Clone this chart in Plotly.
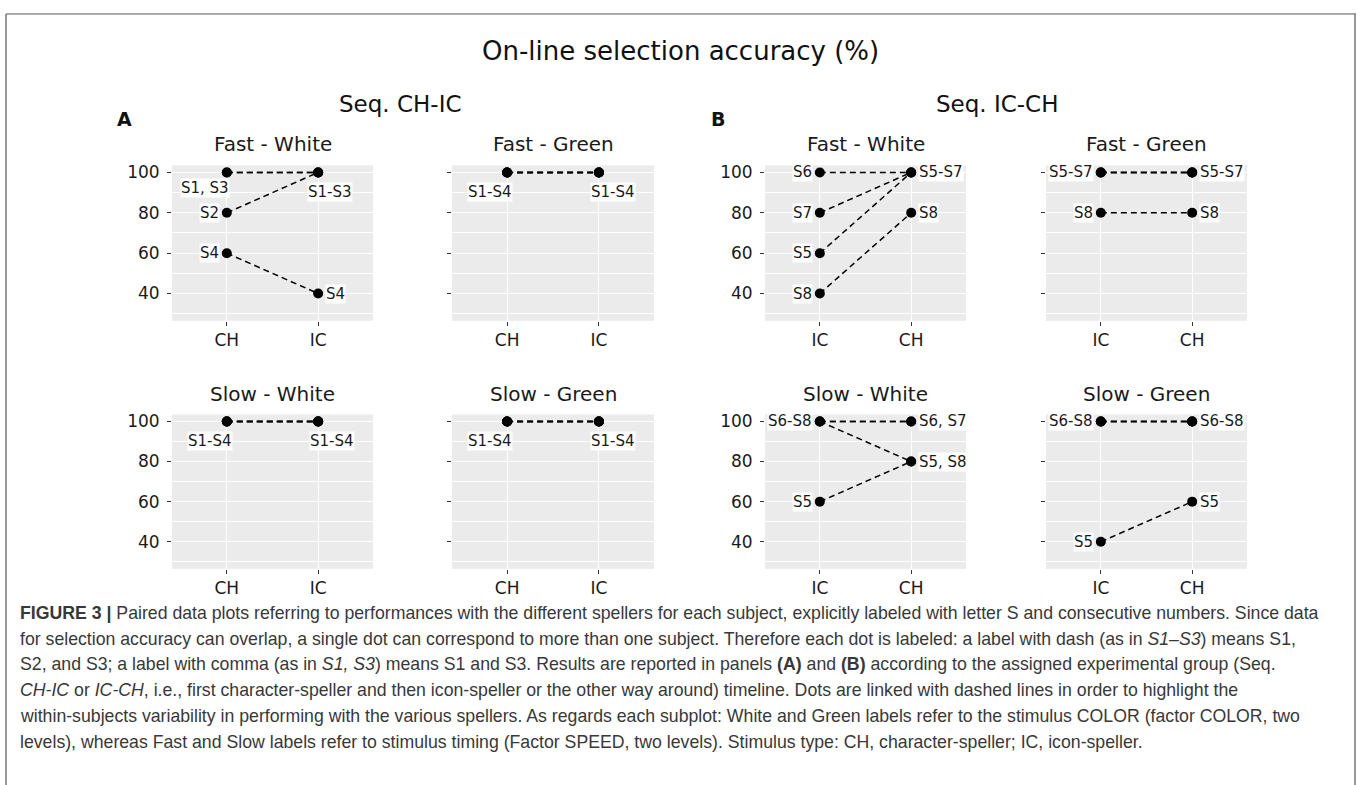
import plotly.graph_objects as go

W, H = 1357, 785

# ---------------- data ----------------
panel_titles = ["Fast - White", "Fast - Green", "Slow - White", "Slow - Green"]
stim_a = ["CH", "IC"]   # Seq. CH-IC: character speller first
stim_b = ["IC", "CH"]   # Seq. IC-CH: icon speller first
y_ticks = [40, 60, 80, 100]

subjects_a = ["S1", "S2", "S3", "S4"]
subjects_b = ["S5", "S6", "S7", "S8"]

# on-line selection accuracy (%) per subject: first speller, second speller
a_fast_white_first = [100, 80, 100, 60]
a_fast_white_second = [100, 100, 100, 40]
a_fast_green_first = [100, 100, 100, 100]
a_fast_green_second = [100, 100, 100, 100]
a_slow_white_first = [100, 100, 100, 100]
a_slow_white_second = [100, 100, 100, 100]
a_slow_green_first = [100, 100, 100, 100]
a_slow_green_second = [100, 100, 100, 100]

b_fast_white_first = [60, 100, 80, 40]
b_fast_white_second = [100, 100, 100, 80]
b_fast_green_first = [100, 100, 100, 80]
b_fast_green_second = [100, 100, 100, 80]
b_slow_white_first = [60, 100, 100, 100]
b_slow_white_second = [80, 100, 100, 80]
b_slow_green_first = [40, 100, 100, 100]
b_slow_green_second = [60, 100, 100, 100]

# dot labels: (speller, accuracy, text)
labels_a_fast_white = [("CH", 100, "S1, S3"), ("CH", 80, "S2"), ("CH", 60, "S4"),
                       ("IC", 100, "S1-S3"), ("IC", 40, "S4")]
labels_a_fast_green = [("CH", 100, "S1-S4"), ("IC", 100, "S1-S4")]
labels_a_slow_white = [("CH", 100, "S1-S4"), ("IC", 100, "S1-S4")]
labels_a_slow_green = [("CH", 100, "S1-S4"), ("IC", 100, "S1-S4")]
labels_b_fast_white = [("IC", 100, "S6"), ("IC", 80, "S7"), ("IC", 60, "S5"), ("IC", 40, "S8"),
                       ("CH", 100, "S5-S7"), ("CH", 80, "S8")]
labels_b_fast_green = [("IC", 100, "S5-S7"), ("IC", 80, "S8"), ("CH", 100, "S5-S7"), ("CH", 80, "S8")]
labels_b_slow_white = [("IC", 100, "S6-S8"), ("IC", 60, "S5"), ("CH", 100, "S6, S7"), ("CH", 80, "S5, S8")]
labels_b_slow_green = [("IC", 100, "S6-S8"), ("IC", 40, "S5"), ("CH", 100, "S6-S8"), ("CH", 60, "S5")]

caption_lines = [
    "<b>FIGURE 3 |</b> Paired data plots referring to performances with the different spellers for each subject, explicitly labeled with letter S and consecutive numbers. Since data",
    "for selection accuracy can overlap, a single dot can correspond to more than one subject. Therefore each dot is labeled: a label with dash (as in <i>S1–S3</i>) means S1,",
    "S2, and S3; a label with comma (as in <i>S1, S3</i>) means S1 and S3. Results are reported in panels <b>(A)</b> and <b>(B)</b> according to the assigned experimental group (Seq.",
    "<i>CH-IC</i> or <i>IC-CH</i>, i.e., first character-speller and then icon-speller or the other way around) timeline. Dots are linked with dashed lines in order to highlight the",
    "within-subjects variability in performing with the various spellers. As regards each subplot: White and Green labels refer to the stimulus COLOR (factor COLOR, two",
    "levels), whereas Fast and Slow labels refer to stimulus timing (Factor SPEED, two levels). Stimulus type: CH, character-speller; IC, icon-speller.",
]

# ---------------- label placement (pixel offsets) ----------------
place_a_fast_white = [("below", -22, -16), ("left", 0, 0), ("left", 0, 0), ("below", 12, -20), ("right", 0, 0)]
place_a_pair = [("below", -17, -20), ("below", 14, -20)]
place_b_fast_white = [("left", 0, 0)] * 4 + [("right", 0, 0)] * 2
place_b_fast_green = [("left", 0, 0)] * 2 + [("right", 0, 0)] * 2
place_b_slow = [("left", 0, 0)] * 2 + [("right", 0, 0)] * 2

# ---------------- layout geometry (pixels) ----------------
col_px = [(172, 373), (452, 654), (765, 966), (1046, 1247)]
row_px = [(163, 319), (413, 568)]

FONT = "DejaVu Sans"
panels = [
    # (column, row, categories, first, second, subjects, labels, placement, title)
    (0, 0, stim_a, a_fast_white_first, a_fast_white_second, subjects_a, labels_a_fast_white, place_a_fast_white, panel_titles[0]),
    (1, 0, stim_a, a_fast_green_first, a_fast_green_second, subjects_a, labels_a_fast_green, place_a_pair, panel_titles[1]),
    (0, 1, stim_a, a_slow_white_first, a_slow_white_second, subjects_a, labels_a_slow_white, place_a_pair, panel_titles[2]),
    (1, 1, stim_a, a_slow_green_first, a_slow_green_second, subjects_a, labels_a_slow_green, place_a_pair, panel_titles[3]),
    (2, 0, stim_b, b_fast_white_first, b_fast_white_second, subjects_b, labels_b_fast_white, place_b_fast_white, panel_titles[0]),
    (3, 0, stim_b, b_fast_green_first, b_fast_green_second, subjects_b, labels_b_fast_green, place_b_fast_green, panel_titles[1]),
    (2, 1, stim_b, b_slow_white_first, b_slow_white_second, subjects_b, labels_b_slow_white, place_b_slow, panel_titles[2]),
    (3, 1, stim_b, b_slow_green_first, b_slow_green_second, subjects_b, labels_b_slow_green, place_b_slow, panel_titles[3]),
]

fig = go.Figure()
annotations = []
layout = {}

for i, (c, r, cats, first, second, subs, labels, place, title) in enumerate(panels):
    n = "" if i == 0 else str(i + 1)
    xa, ya = "x" + n, "y" + n
    x0, x1 = col_px[c]
    y0, y1 = row_px[r]
    layout["xaxis" + n] = dict(
        domain=[x0 / W, x1 / W], anchor=ya, type="category",
        categoryorder="array", categoryarray=cats, range=[-0.6, 1.6],
        showgrid=True, gridcolor="white", gridwidth=1.3, zeroline=False, showline=False,
        ticks="outside", ticklen=4, tickwidth=1.2, tickcolor="#333333",
        tickfont=dict(family=FONT, size=17, color="#1a1a1a"),
    )
    layout["yaxis" + n] = dict(
        domain=[1 - y1 / H, 1 - y0 / H], anchor=xa, range=[26.5, 103.5],
        tickvals=y_ticks, showticklabels=(c in (0, 2)),
        showgrid=True, gridcolor="white", gridwidth=1.3, zeroline=False, showline=False,
        ticks="outside", ticklen=4, tickwidth=1.2, tickcolor="#333333",
        tickfont=dict(family=FONT, size=17, color="#1a1a1a"), ticklabelstandoff=4,
        minor=dict(tickvals=[30, 50, 70, 90], showgrid=True, gridcolor="white", gridwidth=0.6, ticks=""),
    )
    # dashed within-subject links
    for s, a, b in zip(subs, first, second):
        fig.add_trace(go.Scatter(
            x=cats, y=[a, b], xaxis=xa, yaxis=ya, mode="lines", name=s,
            line=dict(color="black", width=1.5, dash="6px,4px"), showlegend=False, hoverinfo="skip",
        ))
    # dots
    fig.add_trace(go.Scatter(
        x=[cats[0]] * len(first) + [cats[1]] * len(second), y=first + second,
        xaxis=xa, yaxis=ya, mode="markers", marker=dict(color="black", size=10),
        showlegend=False, text=subs + subs,
    ))
    # dot labels
    for (cat, val, txt), (side, dx, dy) in zip(labels, place):
        ann = dict(x=cat, y=val, xref=xa, yref=ya, text=txt, showarrow=False,
                   font=dict(family=FONT, size=15, color="#1a1a1a"),
                   bgcolor="white", borderpad=0, yanchor="middle")
        if side == "left":
            ann.update(xanchor="right", xshift=-7)
        elif side == "right":
            ann.update(xanchor="left", xshift=7)
        else:
            ann.update(xanchor="center", xshift=dx, yshift=dy)
        annotations.append(ann)
    # panel title
    annotations.append(dict(
        x=(x0 + x1) / 2 / W, y=1 - (y0 - 21) / H, xref="paper", yref="paper",
        text=title, showarrow=False, xanchor="center", yanchor="middle",
        font=dict(family=FONT, size=20, color="#1a1a1a"),
    ))

# figure-level titles
def paper_text(px, py, text, size, bold=False, xanchor="center"):
    return dict(x=px / W, y=1 - py / H, xref="paper", yref="paper",
                text=f"<b>{text}</b>" if bold else text, showarrow=False,
                xanchor=xanchor, yanchor="middle",
                font=dict(family=FONT, size=size, color="#111111"))

annotations.append(paper_text(680, 48, "On-line selection accuracy (%)", 26))
annotations.append(paper_text(400, 101, "Seq. CH-IC", 23))
annotations.append(paper_text(997, 101, "Seq. IC-CH", 23))
annotations.append(paper_text(124, 116, "A", 19, bold=True))
annotations.append(paper_text(718, 116, "B", 19, bold=True))

# caption
CAP_FONT = "Liberation Sans, Arial, sans-serif"
for k, line in enumerate(caption_lines):
    annotations.append(dict(
        x=18 / W, y=1 - (612 + 26 * k) / H, xref="paper", yref="paper", text=line,
        showarrow=False, xanchor="left", yanchor="middle",
        font=dict(family=CAP_FONT, size=17.7, color="#383838"),
    ))

# outer frame
shapes = [
    dict(type="line", xref="paper", yref="paper", x0=6 / W, x1=1356 / W, y0=1 - 11 / H, y1=1 - 11 / H,
         line=dict(color="#555555", width=1)),
    dict(type="line", xref="paper", yref="paper", x0=6 / W, x1=6 / W, y0=1 - 11 / H, y1=0,
         line=dict(color="#777777", width=1.5)),
    dict(type="line", xref="paper", yref="paper", x0=1355 / W, x1=1355 / W, y0=1 - 11 / H, y1=0,
         line=dict(color="#777777", width=1.5)),
]

fig.update_layout(
    width=W, height=H, margin=dict(l=0, r=0, t=0, b=0),
    paper_bgcolor="white", plot_bgcolor="#EBEBEB",
    annotations=annotations, shapes=shapes, showlegend=False,
    **layout,
)

fig.write_html("out.html")
